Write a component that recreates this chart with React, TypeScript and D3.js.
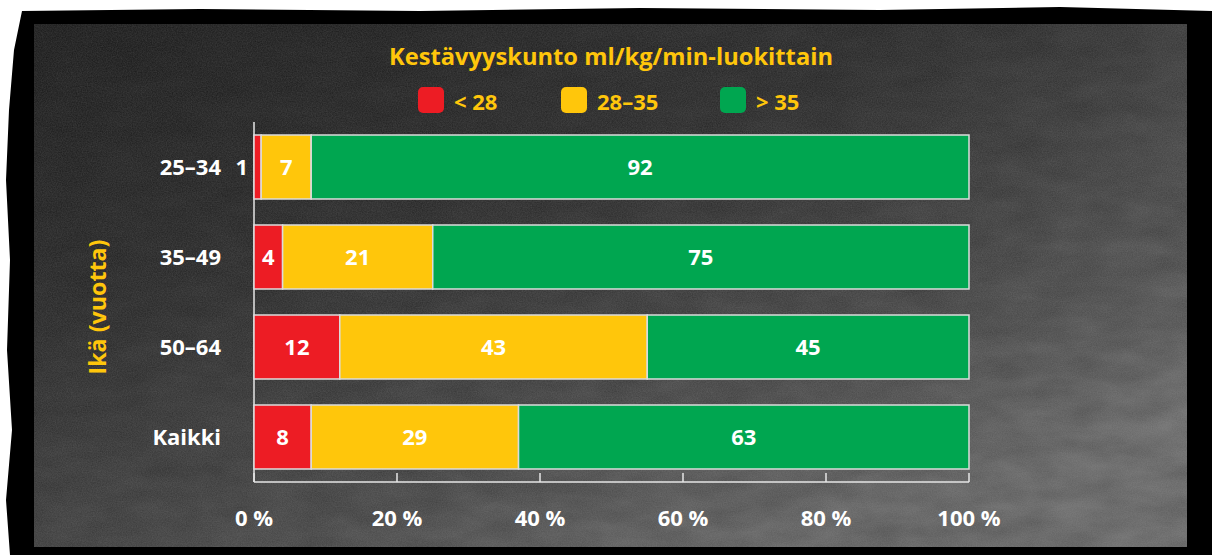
import React from "react";
import * as d3 from "d3";

const categories = ["25–34", "35–49", "50–64", "Kaikki"];
const seriesNames = ["< 28", "28–35", "> 35"];
const low = [1, 4, 12, 8];
const mid = [7, 21, 43, 29];
const high = [92, 75, 45, 63];
const tickValues = [0, 20, 40, 60, 80, 100];
const title = "Kestävyyskunto ml/kg/min-luokittain";
const yTitle = "Ikä (vuotta)";

const COLORS = ["#ED1C24", "#FFC60B", "#00A650"];
const YELLOW = "#FFC60B";
const FONT = "'Open Sans', 'Noto Sans', sans-serif";

export default function App() {
  const W = 1212, H = 555;
  const x = d3.scaleLinear().domain([0, 100]).range([254, 969]);
  const y = d3
    .scaleBand<string>()
    .domain(categories)
    .range([122, 482])
    .paddingInner(26 / 90)
    .paddingOuter(13 / 90);

  const rows = categories.map((c, i) => ({ cat: c, vals: [low[i], mid[i], high[i]] }));
  const stack = d3.stack<any>().keys(["0", "1", "2"])(
    rows.map((r) => ({ "0": r.vals[0], "1": r.vals[1], "2": r.vals[2], cat: r.cat }))
  );

  const legendX = [418, 561, 720];

  return (
    <svg width={W} height={H} style={{ position: "absolute", left: 0, top: 0 }}>
      <defs>
        <linearGradient id="bg" x1="0" y1="0" x2="0.6" y2="1">
          <stop offset="0" stopColor="#1c1c1c" />
          <stop offset="0.4" stopColor="#2c2c2c" />
          <stop offset="0.8" stopColor="#4e4e4e" />
          <stop offset="1" stopColor="#6a6a6a" />
        </linearGradient>
        <linearGradient id="bg2" x1="0" y1="0" x2="1" y2="0">
          <stop offset="0" stopColor="#000" stopOpacity="0.1" />
          <stop offset="0.6" stopColor="#000" stopOpacity="0" />
          <stop offset="1" stopColor="#fff" stopOpacity="0.06" />
        </linearGradient>
        <filter id="noise" x="0" y="0" width="100%" height="100%">
          <feTurbulence type="fractalNoise" baseFrequency="0.8" numOctaves="2" seed="3" result="t" />
          <feColorMatrix type="matrix" values="0 0 0 0 0.5  0 0 0 0 0.5  0 0 0 0 0.5  0 0 0 0.2 0" />
        </filter>
        <filter id="blot" x="0" y="0" width="100%" height="100%">
          <feTurbulence type="fractalNoise" baseFrequency="0.02 0.05" numOctaves="3" seed="7" />
          <feColorMatrix type="matrix" values="0 0 0 0 0  0 0 0 0 0  0 0 0 0 0  0 0 0 0.25 -0.03" />
        </filter>
      </defs>
      <rect x={0} y={0} width={W} height={H} fill="#fff" />
      <path
        d="M 22 11 L 200 9 L 420 11 L 640 8 L 880 10 L 1060 7 L 1212 11 L 1212 555 L 10 555 L 6 500 L 12 430 L 7 350 L 10 260 L 6 180 L 9 110 L 14 50 Z"
        fill="#000"
      />
      <rect x={34} y={24} width={1153} height={523} fill="url(#bg)" />
      <rect x={34} y={24} width={1153} height={523} fill="url(#bg2)" />
      <rect x={34} y={24} width={1153} height={523} filter="url(#blot)" />
      <rect x={34} y={24} width={1153} height={523} filter="url(#noise)" />

      {/* title */}
      <text
        x={611}
        y={65}
        textAnchor="middle"
        fill={YELLOW}
        fontFamily={FONT}
        fontWeight={700}
        fontSize={24}
        textLength={444}
        lengthAdjust="spacingAndGlyphs"
      >
        {title}
      </text>

      {/* legend */}
      {seriesNames.map((s, i) => (
        <g key={s}>
          <rect x={legendX[i]} y={87} width={26} height={26} rx={5} fill={COLORS[i]} />
          <text
            x={legendX[i] + 36}
            y={110}
            fill={YELLOW}
            fontFamily={FONT}
            fontWeight={700}
            fontSize={22}
          >
            {s}
          </text>
        </g>
      ))}

      {/* y title */}
      <text
        transform={`translate(106,307) rotate(-90)`}
        textAnchor="middle"
        fill={YELLOW}
        fontFamily={FONT}
        fontWeight={700}
        fontSize={23}
        textLength={135}
        lengthAdjust="spacingAndGlyphs"
      >
        {yTitle}
      </text>

      {/* axes */}
      <line x1={x(0)} x2={x(0)} y1={122} y2={482} stroke="#e6e6e6" strokeWidth={1.5} />
      <line x1={x(0)} x2={x(100)} y1={482} y2={482} stroke="#e6e6e6" strokeWidth={1.5} />
      {tickValues.map((t) => (
        <g key={t}>
          <line x1={x(t)} x2={x(t)} y1={482} y2={473} stroke="#e6e6e6" strokeWidth={1.5} />
          <text
            x={x(t)}
            y={526}
            textAnchor="middle"
            fill="#fff"
            fontFamily={FONT}
            fontWeight={700}
            fontSize={22}
          >
            {`${t} %`}
          </text>
        </g>
      ))}

      {/* bars */}
      {stack.map((layer, si) =>
        layer.map((d, ci) => {
          const cat = categories[ci];
          const x0 = x(d[0]);
          const x1 = x(d[1]);
          const yy = y(cat)!;
          const v = d[1] - d[0];
          const inside = x1 - x0 > 20;
          return (
            <g key={`${si}-${ci}`}>
              <rect
                x={x0}
                y={yy}
                width={x1 - x0}
                height={y.bandwidth()}
                fill={COLORS[si]}
                stroke="#dcdcdc"
                strokeWidth={1.5}
              />
              <text
                x={inside ? (x0 + x1) / 2 : x0 - 6}
                y={yy + y.bandwidth() / 2 + 8}
                textAnchor={inside ? "middle" : "end"}
                fill="#fff"
                fontFamily={FONT}
                fontWeight={700}
                fontSize={22}
              >
                {v}
              </text>
            </g>
          );
        })
      )}

      {/* category labels */}
      {categories.map((c) => (
        <text
          key={c}
          x={221}
          y={y(c)! + y.bandwidth() / 2 + 8}
          textAnchor="end"
          fill="#fff"
          fontFamily={FONT}
          fontWeight={700}
          fontSize={22}
        >
          {c}
        </text>
      ))}
    </svg>
  );
}
